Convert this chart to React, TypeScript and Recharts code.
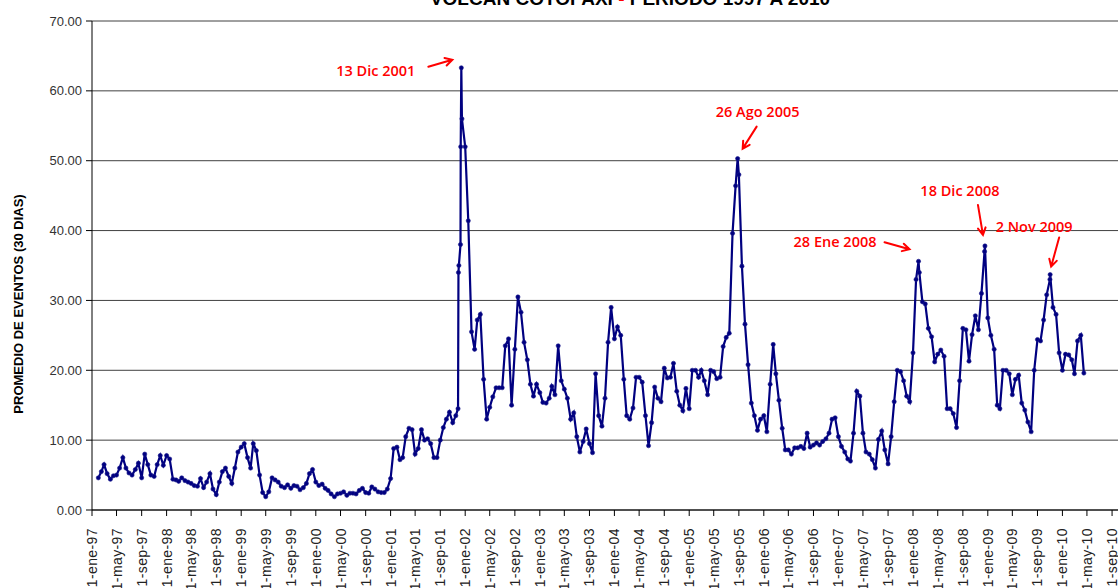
import React from "react";
import { LineChart, Line, XAxis, YAxis, CartesianGrid, ReferenceDot } from "recharts";

// promedio de eventos (30 dias), valores al 1 y 16 de cada mes
const v1997 = [null, null, 4.6, 5.5, 6.5, 5.2, 4.4, 4.9, 5.0, 6.0, 7.5, 6.0, 5.3, 5.0, 5.8, 6.7, 4.6, 8.0, 6.5, 5.0, 4.8, 6.5, 7.8, 6.4];
const v1998 = [7.8, 7.3, 4.4, 4.3, 4.1, 4.6, 4.2, 4.0, 3.8, 3.5, 3.4, 4.5, 3.2, 4.0, 5.2, 3.0, 2.2, 4.0, 5.5, 6.0, 4.8, 3.8, 6.0, 8.3];
const v1999 = [9.0, 9.5, 7.5, 6.0, 9.5, 8.5, 5.0, 2.5, 1.9, 2.6, 4.6, 4.3, 4.0, 3.4, 3.2, 3.6, 3.1, 3.5, 3.4, 2.9, 3.2, 3.8, 5.2, 5.8];
const v2000 = [4.0, 3.5, 3.7, 3.1, 2.8, 2.3, 1.9, 2.3, 2.4, 2.6, 2.1, 2.4, 2.4, 2.3, 2.8, 3.1, 2.5, 2.4, 3.3, 3.0, 2.6, 2.5, 2.5, 3.0];
const v2001 = [4.5, 8.8, 9.0, 7.2, 7.5, 10.5, 11.7, 11.5, 8.0, 8.8, 11.5, 10.0, 10.2, 9.5, 7.5, 7.5, 10.0, 11.8, 13.0, 14.0, 12.5, 13.5, 35.0, 56.0];
const v2002 = [52, 41.4, 25.5, 23, 27.2, 28, 18.7, 13, 14.7, 16.2, 17.5, 17.5, 17.5, 23.5, 24.5, 15, 23, 30.5, 28.3, 24, 21.5, 18, 16.3, 18];
const v2003 = [16.8, 15.4, 15.3, 16, 17.7, 16.5, 23.5, 18.5, 17.3, 16, 13, 13.9, 10.5, 8.3, 9.8, 11.6, 9.5, 8.2, 19.5, 13.5, 12, 16, 24, 29];
const v2004 = [24.5, 26.2, 25, 18.7, 13.5, 13, 14.6, 19, 19, 18.3, 13.5, 9.2, 12.5, 17.6, 16, 15.5, 20.3, 18.9, 19, 21, 17, 15, 14.2, 17.4];
const v2005 = [14.5, 20, 20, 19, 20, 18.5, 16.5, 20, 19.8, 18.8, 19, 23.4, 24.7, 25.3, 39.6, 46.4, 48, 34.9, 26.6, 20.8, 15.3, 13.5, 11.4, 13];
const v2006 = [13.5, 11.2, 18, 23.7, 19.5, 15.7, 11.7, 8.6, 8.6, 8, 8.9, 8.9, 9.1, 8.8, 11, 9, 9.3, 9.6, 9.3, 9.8, 10.2, 11, 13, 13.2];
const v2007 = [10.5, 9.1, 8.3, 7.3, 7, 11, 17, 16.3, 11, 8.3, 8, 7.2, 6, 10.1, 11.3, 8.6, 6.6, 10.5, 15.5, 20, 19.8, 18.5, 16.3, 15.5];
const v2008 = [22.5, 33, 34, 29.8, 29.5, 26, 24.8, 21.2, 22.3, 22.9, 22, 14.5, 14.5, 13.8, 11.8, 18.5, 26, 25.8, 21.3, 25.1, 27.8, 25.8, 31, 37];
const v2009 = [27.5, 25, 23, 15, 14.5, 20, 20, 19.5, 16.5, 18.7, 19.3, 15.3, 14.3, 12.6, 11.2, 20, 24.4, 24.2, 27.2, 30.8, 33, 29, 28, 22.5];
const v2010 = [20, 22.3, 22.2, 21.5, 19.5, 24.2, 25, 19.6];

const years = [1997, 1998, 1999, 2000, 2001, 2002, 2003, 2004, 2005, 2006, 2007, 2008, 2009, 2010];
const yearValues = [v1997, v1998, v1999, v2000, v2001, v2002, v2003, v2004, v2005, v2006, v2007, v2008, v2009, v2010];

// dias sueltos alrededor del salto de nov-dic 2001
const jumpDates = ["2001-11-27", "2001-11-29", "2001-12-09", "2001-12-10"];
const jumpValues = [14.5, 34, 38, 52];

const eventDates = ["2001-12-13", "2005-08-26", "2008-01-28", "2008-12-18", "2009-11-02"];
const eventValues = [63.3, 50.3, 35.6, 37.8, 33.7];
const eventLabels = ["13 Dic 2001", "26 Ago 2005", "28 Ene 2008", "18 Dic 2008", "2 Nov 2009"];

const monthNames = ["ene", "feb", "mar", "abr", "may", "jun", "jul", "ago", "sep", "oct", "nov", "dic"];
const tickMonths = [0, 4, 8];
const yTicks = [0, 10, 20, 30, 40, 50, 60, 70];

// label layout relative to each peak (px)
const noteLayout = [
  { tx: -46, ty: 3, anchor: "end", ax: -33, ay: -1, bx: -9, by: -8 },
  { tx: 20, ty: -47, anchor: "middle", ax: 19, ay: -32, bx: 5, by: -10 },
  { tx: -42, ty: -20, anchor: "end", ax: -34, ay: -19, bx: -9, by: -12 },
  { tx: -25, ty: -55, anchor: "middle", ax: -7, ay: -41, bx: -2, by: -11 },
  { tx: -16, ty: -48, anchor: "middle", ax: 9, ay: -37, bx: 1, by: -8 },
];

const DAY = 86400000;
const BASE = Date.UTC(1997, 0, 1);
const dayOf = (y: number, m: number, d: number) => (Date.UTC(y, m, d) - BASE) / DAY;
const parseDay = (s: string) => {
  const [y, m, d] = s.split("-").map(Number);
  return dayOf(y, m - 1, d);
};

const rows: { t: number; v: number }[] = [];
years.forEach((y, i) => {
  yearValues[i].forEach((v, k) => {
    if (v == null) return;
    rows.push({ t: dayOf(y, Math.floor(k / 2), k % 2 ? 16 : 1), v });
  });
});
jumpDates.forEach((d, i) => rows.push({ t: parseDay(d), v: jumpValues[i] }));
eventDates.forEach((d, i) => rows.push({ t: parseDay(d), v: eventValues[i] }));
rows.sort((a, b) => a.t - b.t);

const xTicks: number[] = [];
const tickText: Record<number, string> = {};
years.forEach((y) => {
  tickMonths.forEach((m) => {
    const t = dayOf(y, m, 1);
    xTicks.push(t);
    tickText[t] = `1-${monthNames[m]}-${String(y).slice(2)}`;
  });
});

const XTick = ({ x, y, payload }: any) => (
  <text
    x={x}
    y={y}
    transform={`rotate(-90 ${x} ${y})`}
    textAnchor="end"
    dominantBaseline="central"
    fontSize={14}
    letterSpacing={0.4}
    fill="#222"
    fontFamily="Liberation Sans, Arial, sans-serif"
  >
    {tickText[payload.value]}
  </text>
);

const Note = ({ cx, cy, i }: any) => {
  const o = noteLayout[i];
  const ax = cx + o.ax, ay = cy + o.ay, bx = cx + o.bx, by = cy + o.by;
  const ang = Math.atan2(by - ay, bx - ax);
  const h1x = bx - 8 * Math.cos(ang - 0.5), h1y = by - 8 * Math.sin(ang - 0.5);
  const h2x = bx - 8 * Math.cos(ang + 0.5), h2y = by - 8 * Math.sin(ang + 0.5);
  return (
    <g>
      <text
        x={cx + o.tx}
        y={cy + o.ty}
        textAnchor={o.anchor}
        dominantBaseline="central"
        fontSize={14.5}
        fontWeight={600}
        fill="#ff0000"
        fontFamily="Open Sans, sans-serif"
      >
        {eventLabels[i]}
      </text>
      <path
        d={`M${ax},${ay}L${bx},${by}M${h1x},${h1y}L${bx},${by}L${h2x},${h2y}`}
        stroke="#ff0000"
        strokeWidth={2}
        fill="none"
        strokeLinecap="round"
      />
    </g>
  );
};

export default function App() {
  return (
    <div style={{ position: "absolute", left: 0, top: 0, width: 1118, height: 588, overflow: "hidden", background: "#fff" }}>
      <LineChart width={1118} height={588} data={rows} margin={{ top: 21, right: 0, bottom: 0, left: 0 }}>
        <CartesianGrid vertical={false} stroke="#404040" />
        <XAxis
          dataKey="t"
          type="number"
          domain={[0, dayOf(2010, 8, 30)]}
          ticks={xTicks}
          interval={0}
          height={78}
          tick={<XTick />}
          tickSize={6}
          tickMargin={12}
          stroke="#000"
          allowDataOverflow
        />
        <YAxis
          type="number"
          domain={[0, 70]}
          ticks={yTicks}
          width={92}
          tickFormatter={(v: number) => v.toFixed(2)}
          tick={{ fontSize: 13, fill: "#333", fontFamily: "Liberation Sans, Arial, sans-serif" }}
          tickSize={6}
          tickMargin={4}
          stroke="#000"
        />
        <Line
          type="linear"
          dataKey="v"
          stroke="#000080"
          strokeWidth={2.2}
          dot={{ r: 2.1, fill: "#000080", stroke: "#1a1a8c", strokeWidth: 0.6 }}
          isAnimationActive={false}
        />
        {eventDates.map((d, i) => (
          <ReferenceDot
            key={d}
            x={parseDay(d)}
            y={eventValues[i]}
            r={0}
            ifOverflow="visible"
            shape={(p: any) => <Note {...p} i={i} />}
          />
        ))}
        <text
          x={18}
          y={304}
          transform="rotate(-90 18 304)"
          textAnchor="middle"
          dominantBaseline="central"
          fontSize={13}
          fontWeight="bold"
          fill="#000"
          fontFamily="Liberation Sans, Arial, sans-serif"
        >
          PROMEDIO DE EVENTOS (30 DIAS)
        </text>
        <text x={630} y={5} textAnchor="middle" fontSize={19} fontWeight="bold" fill="#000" fontFamily="Liberation Sans, Arial, sans-serif">
          VOLCAN COTOPAXI <tspan fill="#ff0000">-</tspan> PERIODO 1997 A 2010
        </text>
      </LineChart>
    </div>
  );
}
